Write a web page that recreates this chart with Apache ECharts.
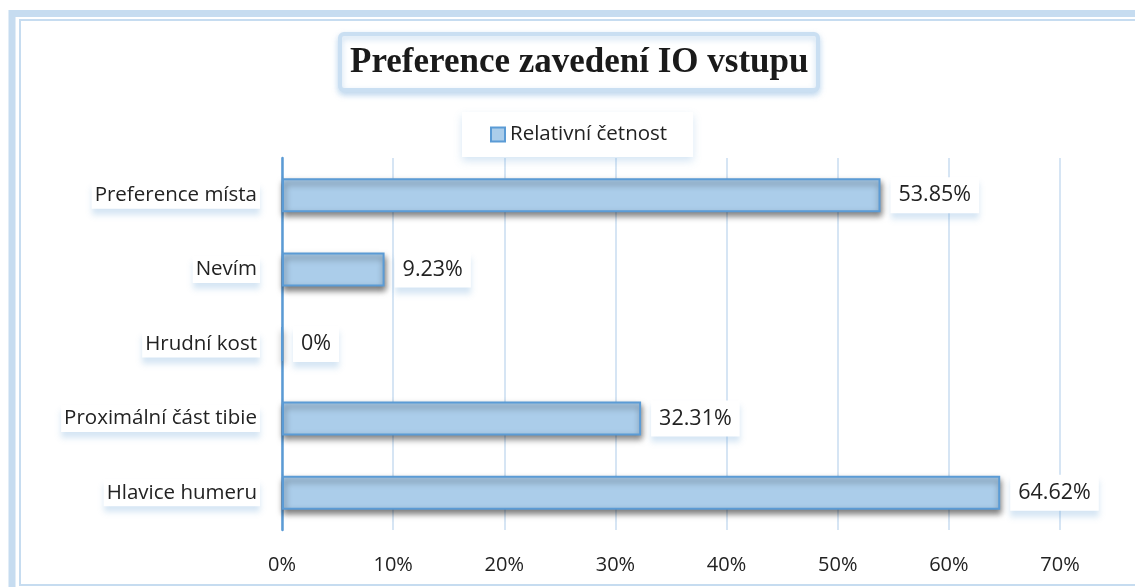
<!DOCTYPE html>
<html>
<head>
<meta charset="utf-8">
<script src="https://cdn.jsdelivr.net/npm/echarts@6/dist/echarts.min.js"></script>
<style>
  html, body { margin: 0; padding: 0; background: #fff; }
  #chart { width: 1135px; height: 587px; }
</style>
</head>
<body>
<div id="chart"></div>
<script>
const categories = ['Preference místa', 'Nevím', 'Hrudní kost', 'Proximální část tibie', 'Hlavice humeru']
const relativeFreq = [53.85, 9.23, 0, 32.31, 64.62]
const valueLabels = ['53.85%', '9.23%', '0%', '32.31%', '64.62%']
const seriesName = 'Relativní četnost'
const chartTitle = 'Preference zavedení IO vstupu'

const labelFont = '"Open Sans", "DejaVu Sans", sans-serif'
const frameBlue = '#c6dcf0'
const chart = echarts.init(document.getElementById('chart'))

chart.setOption({
  animation: false,
  title: {
    text: chartTitle,
    left: 340,
    top: 34,
    padding: [11, 10, 10, 10],
    backgroundColor: '#fff',
    borderColor: '#cadff2',
    borderWidth: 4,
    borderRadius: 4,
    shadowColor: 'rgba(91,155,213,0.35)',
    shadowBlur: 6,
    shadowOffsetY: 3,
    textStyle: {
      fontFamily: '"Liberation Serif", "Times New Roman", serif',
      fontWeight: 'bold',
      fontSize: 35,
      color: '#1a1a1a'
    }
  },
  legend: {
    left: 462,
    top: 112,
    padding: [12, 26, 12, 28],
    backgroundColor: '#fff',
    shadowColor: 'rgba(91,155,213,0.25)',
    shadowBlur: 8,
    shadowOffsetY: 4,
    itemWidth: 14,
    itemHeight: 14,
    itemGap: 4,
    icon: 'rect',
    textStyle: { fontFamily: labelFont, fontSize: 20.5, color: '#222' },
    data: [seriesName]
  },
  grid: { left: 282, right: 75, top: 158, height: 372, containLabel: false },
  xAxis: {
    type: 'value',
    min: 0,
    max: 70,
    interval: 10,
    axisLine: { show: false },
    axisTick: { show: false },
    axisLabel: {
      formatter: '{value}%',
      margin: 25,
      fontFamily: labelFont,
      fontSize: 20,
      color: '#222'
    },
    splitLine: { lineStyle: { color: '#c9ddf0', width: 1.5 } }
  },
  yAxis: {
    type: 'category',
    inverse: true,
    data: categories,
    axisLine: { lineStyle: { color: '#5b9bd5', width: 2.5 } },
    axisTick: { show: false },
    axisLabel: {
      margin: 22,
      fontFamily: labelFont,
      fontSize: 20.5,
      color: '#222',
      backgroundColor: '#fff',
      padding: [3, 3, 3, 3],
      shadowColor: 'rgba(91,155,213,0.25)',
      shadowBlur: 6,
      shadowOffsetY: 6
    }
  },
  series: [{
    name: seriesName,
    type: 'bar',
    data: relativeFreq,
    barWidth: 34,
    itemStyle: {
      color: '#abcdea',
      borderColor: '#5b9bd5',
      borderWidth: 2,
      shadowColor: 'rgba(0,0,0,0.5)',
      shadowBlur: 6,
      shadowOffsetX: 1,
      shadowOffsetY: 4
    },
    label: {
      show: true,
      position: 'right',
      distance: 10,
      formatter: p => valueLabels[p.dataIndex],
      fontFamily: labelFont,
      fontSize: 21.5,
      color: '#222',
      backgroundColor: '#fff',
      padding: [7, 8, 7, 8],
      shadowColor: 'rgba(91,155,213,0.25)',
      shadowBlur: 6,
      shadowOffsetY: 6
    }
  }],
  graphic: [
    { type: 'rect', silent: true, z: -10, shape: { x: 12, y: 13.5, width: 1140, height: 600 }, style: { fill: 'none', stroke: frameBlue, lineWidth: 7 } },
    { type: 'rect', silent: true, z: -10, shape: { x: 20, y: 20, width: 1130, height: 565 }, style: { fill: 'none', stroke: frameBlue, lineWidth: 2 } }
  ]
})

window.addEventListener('resize', () => chart.resize())
</script>
</body>
</html>
